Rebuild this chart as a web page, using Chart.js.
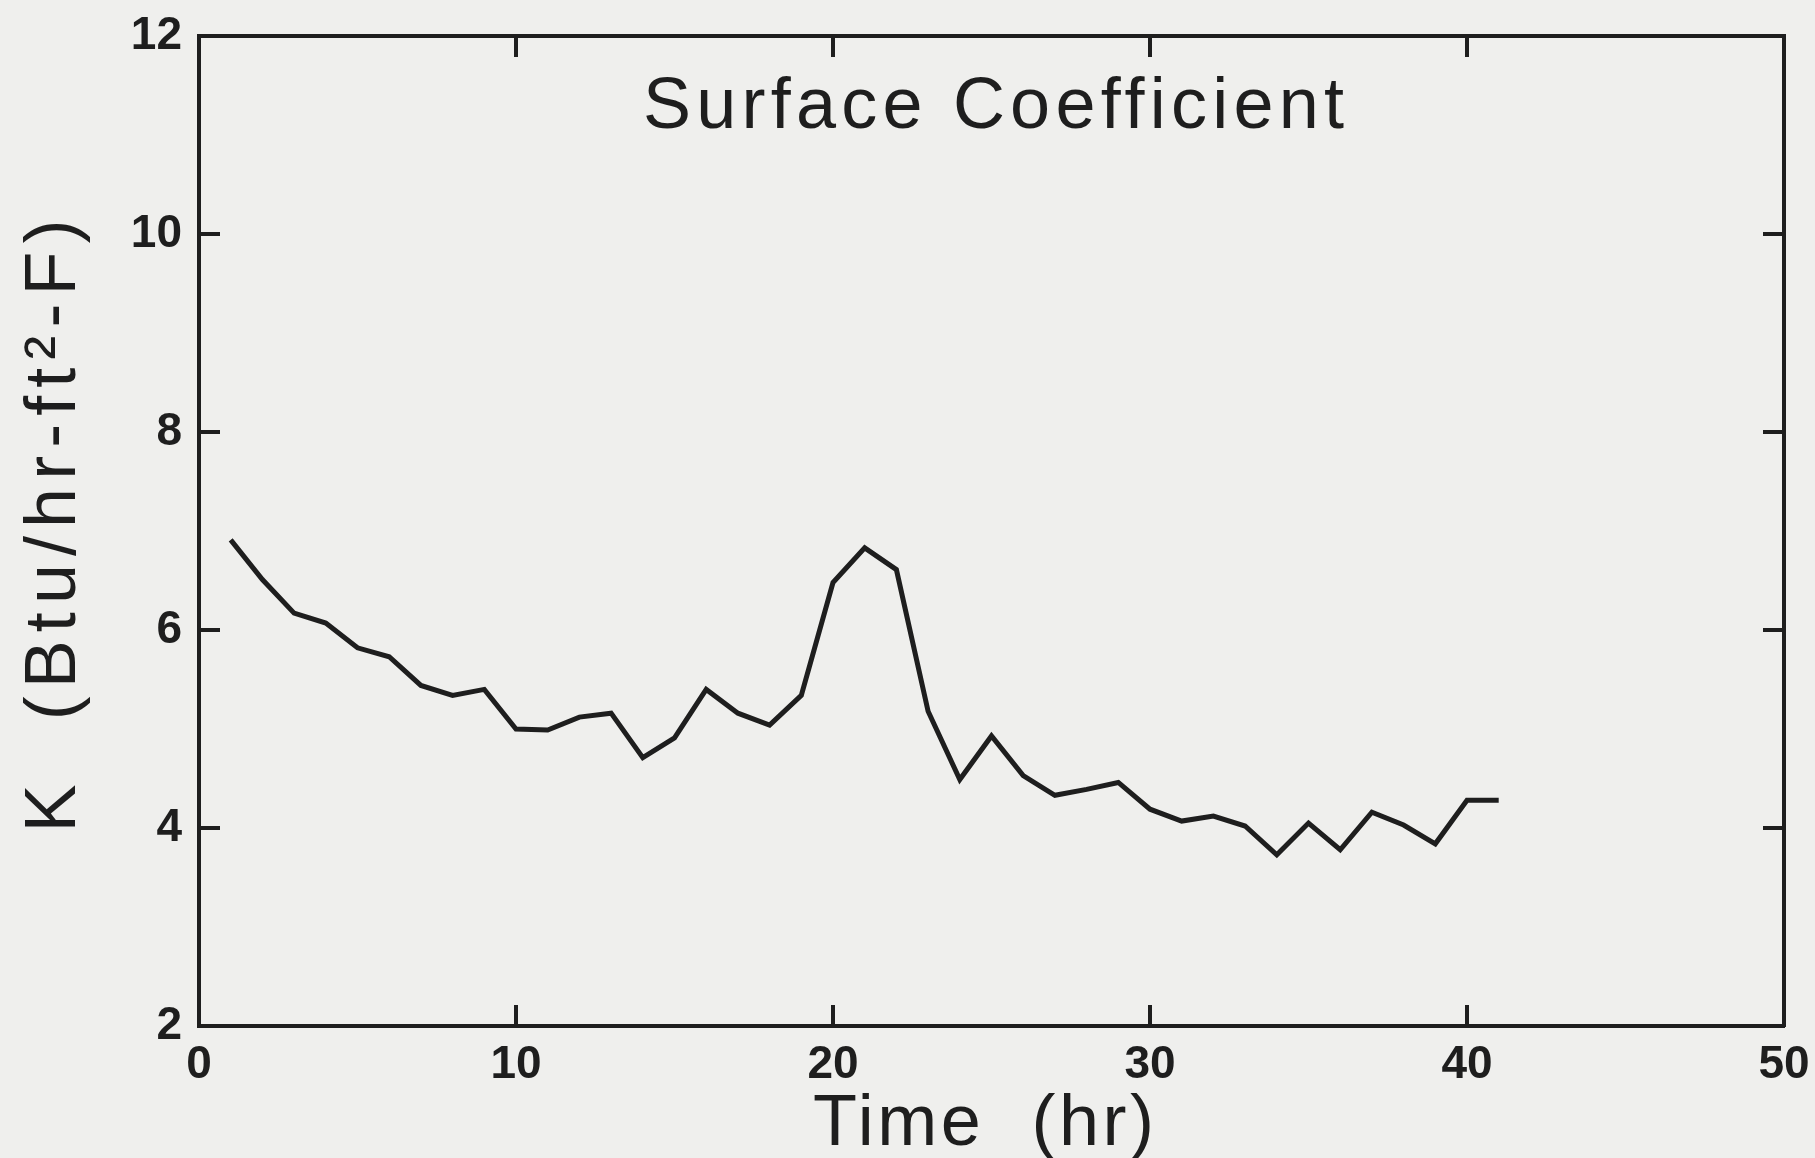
<!DOCTYPE html>
<html>
<head>
<meta charset="utf-8">
<title>Surface Coefficient</title>
<script src="https://cdn.jsdelivr.net/npm/chart.js@4.4.1/dist/chart.umd.min.js"></script>
<style>
    html, body { margin: 0; padding: 0; background: #efefed; }
    #chart-wrap { width: 1815px; height: 1158px; }
</style>
</head>
<body>
<div id="chart-wrap"><canvas id="surface-chart" width="1815" height="1158"></canvas></div>
<script>
// data: one value per hour
const hours = [1, 2, 3, 4, 5, 6, 7, 8, 9, 10,
               11, 12, 13, 14, 15, 16, 17, 18, 19, 20,
               21, 22, 23, 24, 25, 26, 27, 28, 29, 30,
               31, 32, 33, 34, 35, 36, 37, 38, 39, 40, 41];
const surfaceK = [6.91, 6.51, 6.17, 6.07, 5.82, 5.73, 5.44, 5.34, 5.40, 5.00,
                  4.99, 5.12, 5.16, 4.71, 4.91, 5.40, 5.16, 5.04, 5.34, 6.48,
                  6.83, 6.61, 5.18, 4.49, 4.93, 4.53, 4.33, 4.39, 4.46, 4.19,
                  4.07, 4.12, 4.02, 3.73, 4.05, 3.78, 4.16, 4.03, 3.84, 4.28, 4.28];
const xTicks = [0, 10, 20, 30, 40, 50];
const yTicks = [2, 4, 6, 8, 10, 12];

const chartTitle = 'Surface Coefficient';
const xTitle = 'Time  (hr)';
const yTitle = 'K  (Btu/hr-ft\u00b2-F)';

document.addEventListener('DOMContentLoaded', function() {
    const ink = '#1e1e1e';
    const tickFont = { family: '"Liberation Sans", Arial, sans-serif', size: 46, weight: 'bold' };

    // draw text stretched with letter spacing to a given width (plotter-style lettering)
    function spacedText(ctx, text, cx, cy, width, rotate) {
        ctx.save();
        ctx.translate(cx, cy);
        if (rotate) ctx.rotate(-Math.PI / 2);
        ctx.font = '72px "Liberation Sans", Arial, sans-serif';
        ctx.fillStyle = ink;
        ctx.textBaseline = 'alphabetic';
        ctx.textAlign = 'left';
        if ('letterSpacing' in ctx) ctx.letterSpacing = '0px';
        const natural = ctx.measureText(text).width;
        let used = natural;
        if ('letterSpacing' in ctx && text.length > 1) {
            const gap = (width - natural) / (text.length - 1);
            ctx.letterSpacing = gap.toFixed(2) + 'px';
            used = width;
        }
        ctx.fillText(text, -used / 2, 0);
        ctx.restore();
    }

    // the frame is fixed, so drop the extra room chart.js keeps for edge labels
    function noEdgePadding(s) {
        s.paddingTop = 0;
        s.paddingBottom = 0;
        s.paddingLeft = 0;
        s.paddingRight = 0;
    }

    // inward tick marks on all four sides + titles inside/around the frame
    const framePlugin = {
        id: 'frame',
        afterDraw(chart) {
            const ctx = chart.ctx;
            const area = chart.chartArea;
            const xs = chart.scales.x;
            const ys = chart.scales.y;
            const len = 21;
            ctx.save();
            ctx.strokeStyle = ink;
            ctx.lineWidth = 4;
            ctx.beginPath();
            xTicks.slice(1, -1).forEach(v => {
                const px = xs.getPixelForValue(v);
                ctx.moveTo(px, area.bottom);
                ctx.lineTo(px, area.bottom - len);
                ctx.moveTo(px, area.top);
                ctx.lineTo(px, area.top + len);
            });
            yTicks.slice(1, -1).forEach(v => {
                const py = ys.getPixelForValue(v);
                ctx.moveTo(area.left, py);
                ctx.lineTo(area.left + len, py);
                ctx.moveTo(area.right, py);
                ctx.lineTo(area.right - len, py);
            });
            ctx.stroke();
            ctx.restore();

            const midX = (area.left + area.right) / 2;
            const midY = (area.top + area.bottom) / 2;
            spacedText(ctx, chartTitle, xs.getPixelForValue(25) + 2, area.top + 92, 701, false);
            spacedText(ctx, xTitle, midX - 8, 1145, 341, false);
            spacedText(ctx, yTitle, 75, midY - 5, 613, true);
        }
    };

    const ctx = document.getElementById('surface-chart').getContext('2d');
    const surfaceChart = new Chart(ctx, {
        type: 'line',
        data: {
            datasets: [{
                label: 'K',
                data: hours.map((h, i) => ({ x: h, y: surfaceK[i] })),
                borderColor: ink,
                borderWidth: 5,
                pointRadius: 0,
                tension: 0,
                fill: false
            }]
        },
        options: {
            responsive: false,
            animation: false,
            events: [],
            layout: { padding: 0 },
            plugins: {
                legend: { display: false },
                title: { display: false },
                tooltip: { enabled: false }
            },
            scales: {
                x: {
                    type: 'linear',
                    position: 'bottom',
                    min: 0,
                    max: 50,
                    afterBuildTicks: s => { s.ticks = xTicks.map(v => ({ value: v })); },
                    afterFit: s => { s.height = 132; noEdgePadding(s); },
                    grid: { display: false, drawTicks: false },
                    border: { display: true, color: ink, width: 4 },
                    ticks: { color: ink, font: tickFont, padding: 12, maxRotation: 0 }
                },
                x2: {
                    type: 'linear',
                    position: 'top',
                    min: 0,
                    max: 50,
                    afterFit: s => { s.height = 36; noEdgePadding(s); },
                    grid: { display: false, drawTicks: false },
                    border: { display: true, color: ink, width: 4 },
                    ticks: { display: false }
                },
                y: {
                    type: 'linear',
                    position: 'left',
                    min: 2,
                    max: 12,
                    afterBuildTicks: s => { s.ticks = yTicks.map(v => ({ value: v })); },
                    afterFit: s => { s.width = 199; noEdgePadding(s); },
                    grid: { display: false, drawTicks: false },
                    border: { display: true, color: ink, width: 4 },
                    ticks: { color: ink, font: tickFont, padding: 17 }
                },
                y2: {
                    type: 'linear',
                    position: 'right',
                    min: 2,
                    max: 12,
                    afterFit: s => { s.width = 31; noEdgePadding(s); },
                    grid: { display: false, drawTicks: false },
                    border: { display: true, color: ink, width: 4 },
                    ticks: { display: false }
                }
            }
        },
        plugins: [framePlugin]
    });
});
</script>
</body>
</html>
